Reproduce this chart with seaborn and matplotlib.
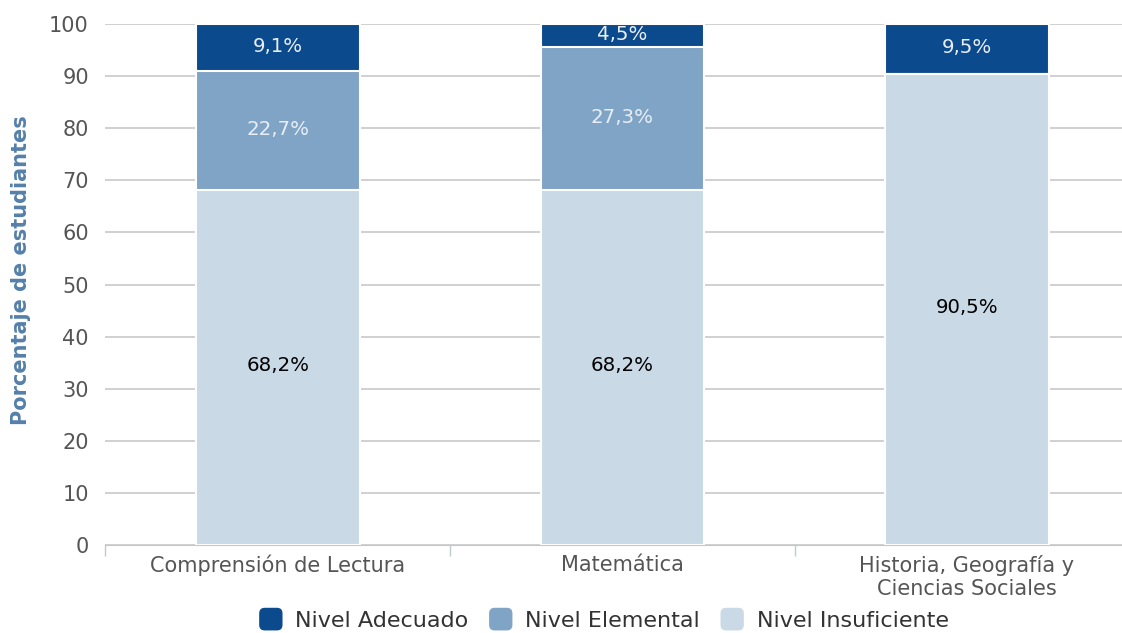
import pandas as pd
import seaborn as sns
import numpy as np
import matplotlib.pyplot as plt
from matplotlib.patches import Patch, FancyBboxPatch
from matplotlib.legend_handler import HandlerPatch

# data
asignaturas = ['Comprensión de Lectura', 'Matemática', 'Historia, Geografía y\nCiencias Sociales']
insuficiente = [68.2, 68.2, 90.5]
elemental = [22.7, 27.3, 0.0]
adecuado = [9.1, 4.5, 9.5]

niveles = ['Nivel Adecuado', 'Nivel Elemental', 'Nivel Insuficiente']
colores = ['#0b4a8c', '#7fa4c6', '#c9d9e6']

df = pd.DataFrame({'Asignatura': asignaturas,
                   'Insuficiente': insuficiente,
                   'Elemental': elemental,
                   'Adecuado': adecuado})
df['tope_elem'] = df['Insuficiente'] + df['Elemental']
df['tope_adec'] = df['tope_elem'] + df['Adecuado']

sns.set_style('white')
plt.rcParams['font.family'] = ['DejaVu Sans']
fig = plt.figure(figsize=(11.22, 6.33), dpi=100)
ax = fig.add_axes([0.094, 0.139, 0.906, 0.823])

# stacked bars drawn back to front
for col, c in zip(['tope_adec', 'tope_elem', 'Insuficiente'], colores):
    sns.barplot(data=df, x='Asignatura', y=col, color=c, width=0.475,
                edgecolor='white', linewidth=1.5, saturation=1, ax=ax)

# segment labels
for i in range(len(df)):
    segs = [(df['Insuficiente'][i], 0, 'black'),
            (df['Elemental'][i], df['Insuficiente'][i], '#e8eef5'),
            (df['Adecuado'][i], df['tope_elem'][i], '#e8eef5')]
    for val, base, tc in segs:
        if val > 0:
            txt = f'{val:.1f}%'.replace('.', ',')
            ax.text(i, base + val / 2 + 0.3, txt, ha='center', va='center',
                    fontsize=14.2, color=tc)

ax.set_ylim(0, 100)
ax.set_xlim(-0.5, 2.45)
ax.set_yticks(np.arange(0, 101, 10))
ax.yaxis.grid(True, color='#c8c8c8', linewidth=1.2)
ax.set_axisbelow(True)
for s in ['top', 'right', 'left']:
    ax.spines[s].set_visible(False)
ax.spines['bottom'].set_color('#c0c8d0')
ax.tick_params(axis='y', length=0, labelsize=15, labelcolor='#555555', pad=12)
ax.tick_params(axis='x', length=0, labelsize=15, labelcolor='#555555', pad=7)
ax.set_xticks([-0.5, 0.5, 1.5], minor=True)
ax.tick_params(axis='x', which='minor', bottom=True, length=8, width=1,
               color='#c0c8d0')
ax.set_xlabel('')
ax.set_ylabel('Porcentaje de estudiantes', fontsize=15, fontweight='bold',
              color='#5580aa')
ax.yaxis.set_label_coords(-0.073, 0.528)


# rounded legend squares
def rounded(legend, orig_handle, xdescent, ydescent, width, height, fontsize):
    return FancyBboxPatch((-xdescent + 2, -ydescent - 1), width - 4, height + 2,
                          boxstyle='round,pad=0,rounding_size=4')


handles = [Patch(facecolor=c, edgecolor='none') for c in colores]
fig.legend(handles, niveles, loc='lower center', ncol=3, frameon=False,
           fontsize=16, handlelength=1.3, handleheight=1.0, columnspacing=0.8,
           handletextpad=0.45, bbox_to_anchor=(0.537, -0.028), labelcolor='#333333',
           handler_map={Patch: HandlerPatch(patch_func=rounded)})

fig.savefig('out.png', dpi=100)
